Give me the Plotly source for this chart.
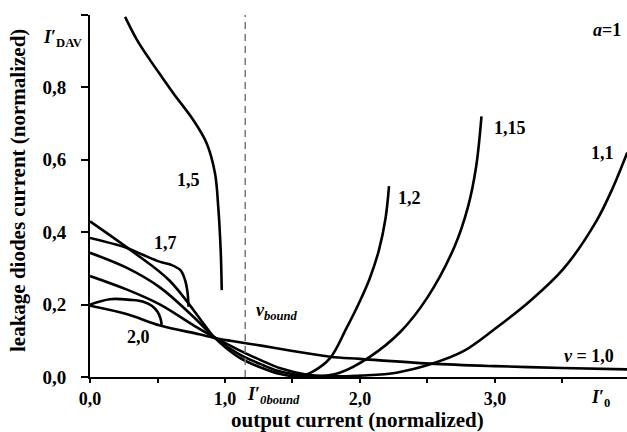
import plotly.graph_objects as go

# ---- data ----
x_v100 = [0, 0.27, 0.52, 0.81, 0.92, 1.04, 1.28, 1.5, 1.78, 2.0, 2.52, 3.0, 3.5, 3.98]
y_v100 = [0.197, 0.174, 0.142, 0.118, 0.108, 0.100, 0.086, 0.072, 0.056, 0.050, 0.037, 0.030, 0.025, 0.021]

x_v110 = [0, 0.27, 0.52, 0.77, 0.92, 1.1, 1.28, 1.41, 1.6, 1.85, 2.02, 2.27, 2.52, 2.77, 3.01, 3.26, 3.51, 3.75, 3.87, 3.98]
y_v110 = [0.279, 0.242, 0.2, 0.142, 0.11, 0.075, 0.044, 0.024, 0.007, 0.002, 0.004, 0.012, 0.035, 0.072, 0.136, 0.21, 0.30, 0.43, 0.52, 0.62]

x_v115 = [0, 0.27, 0.52, 0.77, 0.92, 1.1, 1.28, 1.41, 1.68, 1.85, 2.07, 2.3, 2.5, 2.7, 2.8, 2.86, 2.9]
y_v115 = [0.343, 0.302, 0.247, 0.165, 0.11, 0.064, 0.033, 0.015, 0.002, 0.012, 0.055, 0.125, 0.22, 0.36, 0.47, 0.58, 0.72]

x_v120 = [0, 0.31, 0.59, 0.86, 0.92, 1.1, 1.28, 1.41, 1.55, 1.65, 1.78, 1.9, 2.0, 2.07, 2.14, 2.19, 2.215]
y_v120 = [0.43, 0.348, 0.266, 0.138, 0.11, 0.055, 0.024, 0.008, 0.002, 0.015, 0.053, 0.135, 0.21, 0.27, 0.35, 0.44, 0.527]

x_v150 = [0.26, 0.35, 0.444, 0.53, 0.617, 0.765, 0.864, 0.926, 0.95, 0.968, 0.976]
y_v150 = [0.995, 0.93, 0.876, 0.83, 0.784, 0.71, 0.646, 0.563, 0.47, 0.351, 0.24]

x_v170 = [0, 0.27, 0.395, 0.52, 0.60, 0.67, 0.704, 0.722, 0.73]
y_v170 = [0.384, 0.357, 0.337, 0.318, 0.31, 0.295, 0.268, 0.235, 0.194]

x_v200 = [0, 0.148, 0.3, 0.395, 0.46, 0.50, 0.522, 0.531]
y_v200 = [0.2, 0.215, 0.213, 0.208, 0.196, 0.18, 0.162, 0.144]

curve_labels = ["1,5", "1,7", "2,0", "1,2", "1,15", "1,1"]
label_x = [0.726, 0.556, 0.356, 2.37, 3.11, 3.80]
label_y = [0.544, 0.37, 0.11, 0.494, 0.688, 0.619]

x_tickvals = [0, 1.0, 2.0, 3.0]
x_ticktext = ["0,0", "1,0", "2,0", "3,0"]
x_minor_vals = [0.5, 1.5, 2.5, 3.5]
y_tickvals = [0, 0.2, 0.4, 0.6, 0.8]
y_ticktext = ["0,0", "0,2", "0,4", "0,6", "0,8"]
y_minor_vals = [1.0]
v_bound_x = 1.15

FONT = "Liberation Serif"

fig = go.Figure()
for xs, ys in [(x_v100, y_v100), (x_v110, y_v110), (x_v115, y_v115), (x_v120, y_v120),
               (x_v150, y_v150), (x_v170, y_v170), (x_v200, y_v200)]:
    fig.add_trace(go.Scatter(x=xs, y=ys, mode="lines",
                             line=dict(color="black", width=2.6, shape="spline", smoothing=1.0),
                             showlegend=False, hoverinfo="skip"))

fig.add_shape(type="line", x0=v_bound_x, x1=v_bound_x, y0=0, y1=1, xref="x", yref="y",
              line=dict(color="#777777", width=1.5, dash="7px,5px"))

lab_font = dict(family=FONT, size=18, color="black", weight="bold")
for t, xx, yy in zip(curve_labels, label_x, label_y):
    fig.add_annotation(x=xx, y=yy, text=t, showarrow=False, font=lab_font)

fig.add_annotation(x=3.70, y=0.058, text="<i>v</i> = 1,0", showarrow=False, font=lab_font)
fig.add_annotation(x=3.83, y=0.959, text="<i>a</i>=1", showarrow=False, font=lab_font)
fig.add_annotation(x=1.385, y=0.182, text="<i>v<sub>bound</sub></i>", showarrow=False, font=lab_font)

# texts outside the plotting area (paper coordinates)
fig.add_annotation(xref="paper", yref="paper", x=0.3408, y=0, yshift=-18,
                   text="<i>I</i>′<sub><i>0bound</i></sub>", showarrow=False, font=lab_font,
                   yanchor="middle")
fig.add_annotation(xref="paper", yref="paper", x=0.972, y=0, yshift=-21,
                   text="<i>I</i>′<sub>0</sub>", showarrow=False, font=lab_font, yanchor="middle")
fig.add_annotation(xref="paper", yref="paper", x=0, y=1, xshift=-28, yshift=-23,
                   text="<i>I</i>′<sub>DAV</sub>", showarrow=False, font=lab_font,
                   xanchor="center", yanchor="middle")

title_font = dict(family=FONT, size=21, color="black", weight="bold")
fig.add_annotation(xref="paper", yref="paper", x=0, y=0, xshift=267, yshift=-43,
                   text="output current (normalized)", showarrow=False, font=title_font,
                   xanchor="center", yanchor="middle")
fig.add_annotation(xref="paper", yref="paper", x=0, y=0.5, xshift=-72, yshift=5,
                   text="leakage diodes current (normalized)", showarrow=False, font=title_font,
                   textangle=-90, xanchor="center", yanchor="middle")

x_tick_font = dict(family=FONT, size=18, color="black", weight="bold")
y_tick_font = dict(family=FONT, size=19, color="black", weight="bold")
fig.update_xaxes(range=[0, 3.978], showline=True, linecolor="black", linewidth=2,
                 ticks="outside", ticklen=4, tickwidth=2, tickcolor="black",
                 tickvals=x_tickvals, ticktext=x_ticktext, tickfont=x_tick_font,
                 minor=dict(tickvals=x_minor_vals, ticks="outside", ticklen=4, tickwidth=2,
                            tickcolor="black", showgrid=False),
                 showgrid=False, zeroline=False)
fig.update_yaxes(range=[0, 1.0], showline=True, linecolor="black", linewidth=2,
                 ticks="outside", ticklen=7, tickwidth=2, tickcolor="black",
                 tickvals=y_tickvals, ticktext=y_ticktext, tickfont=y_tick_font,
                 minor=dict(tickvals=y_minor_vals, ticks="outside", ticklen=7, tickwidth=2,
                            tickcolor="black", showgrid=False),
                 ticklabelstandoff=11, showgrid=False, zeroline=False)

fig.update_layout(width=627, height=432, margin=dict(l=90, r=0, t=15, b=55),
                  plot_bgcolor="white", paper_bgcolor="white")

fig.write_html("out.html", config={"displayModeBar": False},
               post_script="document.body.style.margin='0';document.body.style.overflow='hidden';")
